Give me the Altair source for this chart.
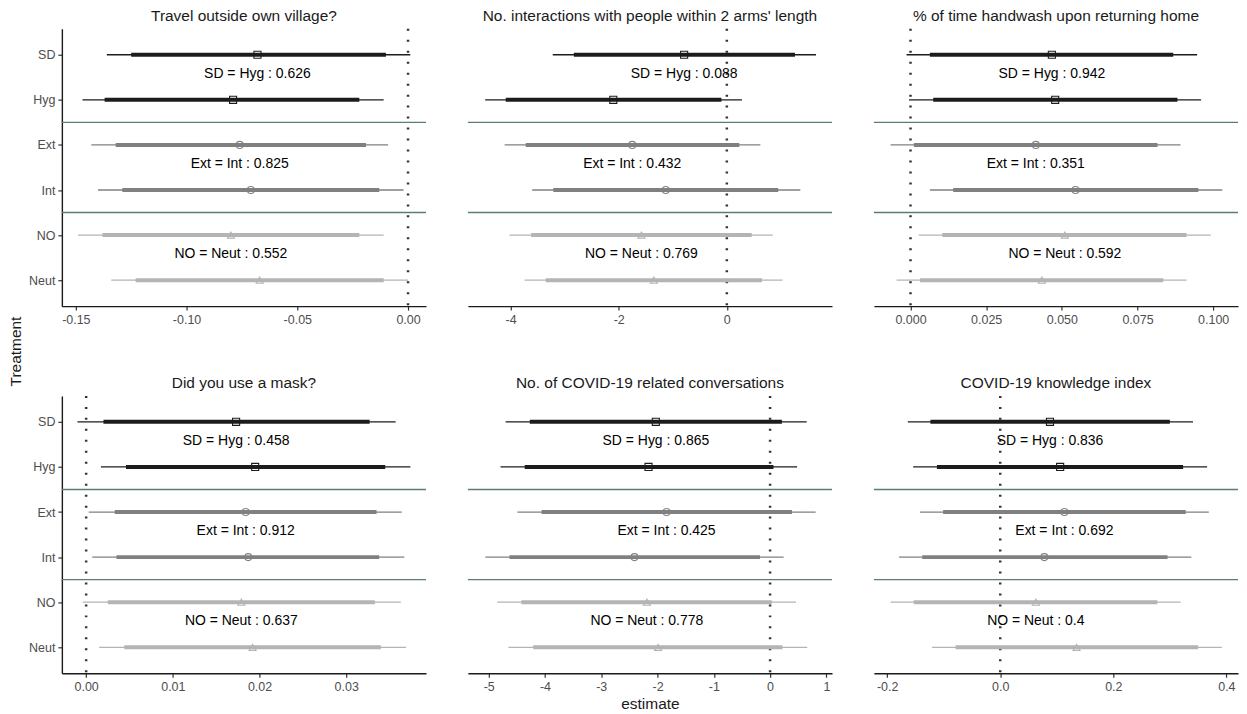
import altair as alt
import pandas as pd

treatments = ["SD", "Hyg", "Ext", "Int", "NO", "Neut"]
ypos = [6, 5, 4, 3, 2, 1]
groups = ["a", "a", "b", "b", "c", "c"]

titles = [
    "Travel outside own village?",
    "No. interactions with people within 2 arms' length",
    "% of time handwash upon returning home",
    "Did you use a mask?",
    "No. of COVID-19 related conversations",
    "COVID-19 knowledge index",
]

# estimates, 95% and 90% intervals (order: SD, Hyg, Ext, Int, NO, Neut)
est = [
    [-0.068, -0.079, -0.076, -0.071, -0.080, -0.067],
    [-0.79, -2.10, -1.75, -1.13, -1.58, -1.35],
    [0.0467, 0.0478, 0.0414, 0.0545, 0.0510, 0.0434],
    [0.0173, 0.0195, 0.0184, 0.0187, 0.0179, 0.0192],
    [-2.03, -2.16, -1.84, -2.41, -2.19, -1.99],
    [0.088, 0.106, 0.1135, 0.078, 0.063, 0.135],
]
lo95 = [
    [-0.136, -0.147, -0.143, -0.140, -0.149, -0.134],
    [-3.22, -4.47, -4.11, -3.60, -4.02, -3.74],
    [-0.0013, -0.0005, -0.0066, 0.0064, 0.0027, -0.0046],
    [-0.0010, 0.0017, 0.0003, 0.0007, -0.0004, 0.0015],
    [-4.70, -4.79, -4.49, -5.06, -4.85, -4.65],
    [-0.1635, -0.154, -0.142, -0.179, -0.194, -0.1206],
]
hi95 = [
    [0.001, -0.011, -0.009, -0.002, -0.011, 0.000],
    [1.65, 0.28, 0.62, 1.36, 0.85, 1.03],
    [0.0947, 0.0960, 0.0892, 0.1030, 0.0992, 0.0912],
    [0.0357, 0.0374, 0.0364, 0.0367, 0.0363, 0.0369],
    [0.65, 0.48, 0.81, 0.24, 0.46, 0.66],
    [0.341, 0.366, 0.369, 0.338, 0.319, 0.392],
]
lo90 = [
    [-0.125, -0.137, -0.132, -0.129, -0.138, -0.123],
    [-2.83, -4.09, -3.72, -3.21, -3.62, -3.35],
    [0.0064, 0.0075, 0.0011, 0.0141, 0.0105, 0.0031],
    [0.0020, 0.0046, 0.0033, 0.0035, 0.0025, 0.0044],
    [-4.27, -4.36, -4.06, -4.63, -4.42, -4.21],
    [-0.1235, -0.112, -0.101, -0.138, -0.153, -0.079],
]
hi90 = [
    [-0.010, -0.022, -0.019, -0.013, -0.022, -0.011],
    [1.26, -0.10, 0.23, 0.95, 0.46, 0.65],
    [0.0868, 0.0882, 0.0816, 0.0951, 0.0912, 0.0835],
    [0.0327, 0.0345, 0.0335, 0.0338, 0.0333, 0.0340],
    [0.21, 0.06, 0.39, -0.18, 0.03, 0.22],
    [0.300, 0.3235, 0.328, 0.296, 0.278, 0.350],
]
pvals = [
    ["0.626", "0.825", "0.552"],
    ["0.088", "0.432", "0.769"],
    ["0.942", "0.351", "0.592"],
    ["0.458", "0.912", "0.637"],
    ["0.865", "0.425", "0.778"],
    ["0.836", "0.692", "0.4"],
]
pairs = ["SD = Hyg", "Ext = Int", "NO = Neut"]

x_domains = [
    [-0.1563, 0.0081],
    [-4.79, 1.945],
    [-0.0121, 0.1082],
    [-0.0028, 0.0392],
    [-5.37, 1.10],
    [-0.2235, 0.4206],
]
x_ticks = [
    [-0.15, -0.10, -0.05, 0.0],
    [-4, -2, 0],
    [0.0, 0.025, 0.05, 0.075, 0.1],
    [0.0, 0.01, 0.02, 0.03],
    [-5, -4, -3, -2, -1, 0, 1],
    [-0.2, 0.0, 0.2, 0.4],
]
x_formats = [".2f", "d", ".3f", ".2f", "d", ".1f"]

FONT = "Liberation Sans"
W, H = 365, 278
col_scale = alt.Scale(domain=["a", "b", "c"], range=["#1c1c1c", "#808080", "#b4b4b4"])
shape_scale = alt.Scale(domain=["a", "b", "c"], range=["square", "circle", "triangle-up"])
LABEL_EXPR = "['','Neut','NO','Int','Ext','Hyg','SD'][datum.value]"


def panel(i, show_y, xtitle=None, ytitle=None):
    df = pd.DataFrame({
        "treat": treatments, "y": ypos, "g": groups,
        "est": est[i], "lo95": lo95[i], "hi95": hi95[i],
        "lo90": lo90[i], "hi90": hi90[i],
    })
    ann = pd.DataFrame({
        "label": [f"{p} : {v}" for p, v in zip(pairs, pvals[i])],
        "est": [est[i][0], est[i][2], est[i][4]],
        "y": [ypos[0] - 0.42, ypos[2] - 0.42, ypos[4] - 0.42],
    })
    sep = pd.DataFrame({"y": [4.5, 2.5]})
    zero = pd.DataFrame({"est": [0.0]})

    if show_y:
        if ytitle:
            yaxis = alt.Axis(values=ypos, labelExpr=LABEL_EXPR, title=ytitle, titleX=-38, titleY=323)
        else:
            yaxis = alt.Axis(values=ypos, labelExpr=LABEL_EXPR, title=None)
    else:
        yaxis = None
    yscale = alt.Scale(domain=[0.425, 6.575], nice=False, zero=False)
    xscale = alt.Scale(domain=x_domains[i], nice=False, zero=False)
    xaxis = alt.Axis(values=x_ticks[i], format=x_formats[i],
                     labelExpr="replace(datum.label, '\u2212', '-')", title=xtitle)

    def X(f):
        return alt.X(f"{f}:Q", scale=xscale, axis=xaxis, title=xtitle)

    def Y(f="y"):
        return alt.Y(f"{f}:Q", scale=yscale, axis=yaxis, title=ytitle)

    color = alt.Color("g:N", scale=col_scale, legend=None)

    thin = alt.Chart(df).mark_rule(strokeWidth=1.3).encode(
        x=X("lo95"), x2="hi95", y=Y(), color=color)
    thick = alt.Chart(df).mark_rule(strokeWidth=4).encode(
        x=X("lo90"), x2="hi90", y=Y(), color=color)
    pts = alt.Chart(df).mark_point(filled=False, size=50, strokeWidth=1.1, opacity=1).encode(
        x=X("est"), y=Y(), color=color,
        shape=alt.Shape("g:N", scale=shape_scale, legend=None))
    seps = alt.Chart(sep).mark_rule(color="#5b7b7b", strokeWidth=1.4).encode(y=Y())
    zl = alt.Chart(zero).mark_rule(color="#333333", strokeWidth=2.5, strokeDash=[2, 9]).encode(x=X("est"))
    txt = alt.Chart(ann).mark_text(font=FONT, fontSize=14, color="black", baseline="middle",
                                   align="center").encode(x=X("est"), y=Y(), text="label:N")
    return alt.layer(seps, zl, thin, thick, pts, txt).properties(
        width=W, height=H, title=alt.TitleParams(titles[i]))


panels = [
    panel(0, True, ytitle="Treatment"), panel(1, False), panel(2, False),
    panel(3, True), panel(4, False, xtitle="estimate"), panel(5, False),
]

chart = alt.concat(*panels, columns=3, spacing={"row": 90, "column": 42}, bounds="flush").properties(
    padding={"left": 1, "top": 0, "right": 0, "bottom": 0}
).configure_view(stroke=None).configure_axis(
    labelFont=FONT, labelFontSize=12.5, labelColor="#4d4d4d", labelPadding=3,
    domainColor="#1a1a1a", domainWidth=1.4, tickColor="#333333", tickWidth=1.2, tickSize=4,
    grid=False, titleFont=FONT, titleFontSize=15.5, titleColor="#1a1a1a", titleFontWeight="normal",
).configure_title(
    font=FONT, fontSize=15.5, fontWeight="normal", color="#1a1a1a", anchor="middle", offset=3,
)

chart.save("out.html", embed_options={"renderer": "svg", "actions": False})
